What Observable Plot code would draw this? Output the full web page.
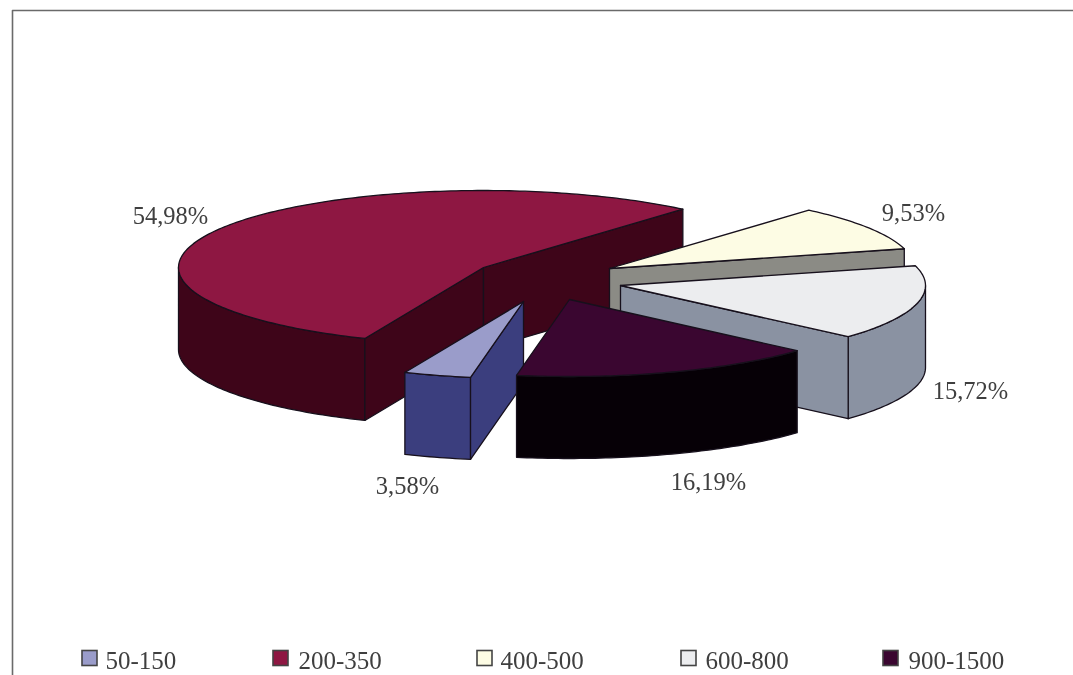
<!DOCTYPE html>
<html>
<head>
<meta charset="utf-8">
<script src="https://cdn.jsdelivr.net/npm/d3@7"></script>
<script src="https://cdn.jsdelivr.net/npm/@observablehq/plot@0.6"></script>
<style>html,body{margin:0;padding:0;background:#fff}svg{display:block;filter:blur(0.55px)}</style>
</head>
<body>
<div id="chart"></div>
<script>
// Data
const categories = ["50-150", "200-350", "400-500", "600-800", "900-1500"];
const shares = [3.58, 54.98, 9.53, 15.72, 16.19];

// Styling / layout (separate from the data)
const topColors  = ["#9a9cca", "#8e1742", "#fdfce4", "#ecedef", "#3a0630"];
const sideColors = ["#3b3e7e", "#3e0519", "#8b8b85", "#8a92a2", "#060006"];
const apexX = [523, 483, 609, 620, 569];
const apexY = [301, 267, 268, 285, 299];
const labelX = [407, 170, 913, 970, 708];
const labelY = [486, 216, 213, 391, 482];
const swatchX = [82, 273, 477, 681, 883];
const legendTextX = [105, 298, 500, 705, 908];
const drawOrder = [1, 2, 3, 0, 4];
const firstAngle = 190, rx = 305, ry = 77, depth = 82;
const legendY = 658, swatchSize = 15, ink = "#17101c", textInk = "#3f3f3f";

const rad = d => d * Math.PI / 180;
const fmt = v => v.toFixed(2).replace(".", ",") + "%";
const total = d3.sum(shares);
let acc = firstAngle;
const slices = shares.map((v, i) => {
  const a0 = acc; acc += v / total * 360;
  return {i, a0, a1: acc};
});
const on = (s, a, dz = 0) => ({
  x: apexX[s.i] + rx * Math.sin(rad(a)),
  y: apexY[s.i] - ry * Math.cos(rad(a)) + dz
});
const arcPts = (s, a0, a1, dz = 0) => {
  const n = Math.max(1, Math.ceil(a1 - a0));
  return d3.range(n + 1).map(k => on(s, a0 + (a1 - a0) * k / n, dz));
};
const apex = (s, dz = 0) => ({x: apexX[s.i], y: apexY[s.i] + dz});

const face = (pts, fill) => Plot.line(pts, {
  x: "x", y: "y", fill, stroke: ink, strokeWidth: 1.3,
  strokeLinejoin: "round", curve: "linear-closed"
});

const sliceMarks = drawOrder.flatMap(i => {
  const s = slices[i], out = [];
  // outer wall: only the near half of the rim can be seen
  const ranges = [];
  for (const off of [0, 360]) {
    const lo = Math.max(s.a0, 90 + off), hi = Math.min(s.a1, 270 + off);
    if (hi > lo) ranges.push([lo, hi]);
  }
  for (const [lo, hi] of ranges)
    out.push(face([...arcPts(s, lo, hi), ...arcPts(s, lo, hi, depth).reverse()], sideColors[i]));
  // cut faces that turn towards the viewer
  if (Math.sin(rad(s.a0)) < 0)
    out.push(face([apex(s), on(s, s.a0), on(s, s.a0, depth), apex(s, depth)], sideColors[i]));
  if (Math.sin(rad(s.a1)) > 0)
    out.push(face([apex(s), on(s, s.a1), on(s, s.a1, depth), apex(s, depth)], sideColors[i]));
  // top
  out.push(face([apex(s), ...arcPts(s, s.a0, s.a1)], topColors[i]));
  return out;
});

const idx = d3.range(categories.length);
const textStyle = {fontFamily: "'Liberation Serif', serif", fill: textInk, stroke: "none"};

const chart = Plot.plot({
  width: 1073, height: 675,
  marginTop: 0, marginRight: 0, marginBottom: 0, marginLeft: 0,
  x: {domain: [0, 1073], range: [0, 1073], axis: null},
  y: {domain: [0, 675], range: [0, 675], axis: null},
  marks: [
    // frame: the scan shows only the left and top edges
    Plot.line([{x: 12, y: 675}, {x: 12, y: 10}, {x: 1073, y: 10}],
      {x: "x", y: "y", stroke: "#6a6a6a", strokeWidth: 1.6}),
    ...sliceMarks,
    // percentage labels
    Plot.text(idx, {
      x: i => labelX[i], y: i => labelY[i], text: i => fmt(shares[i]),
      textAnchor: "middle", lineAnchor: "middle", fontSize: 24.5, ...textStyle
    }),
    // legend
    ...idx.map(i => Plot.rect([i], {
      x1: swatchX[i], x2: swatchX[i] + swatchSize,
      y1: legendY - swatchSize / 2, y2: legendY + swatchSize / 2,
      fill: topColors[i], stroke: "#444", strokeWidth: 1.6
    })),
    Plot.text(idx, {
      x: i => legendTextX[i], y: legendY + 2, text: i => categories[i],
      textAnchor: "start", lineAnchor: "middle", fontSize: 25, ...textStyle
    })
  ]
});
document.getElementById("chart").append(chart);
</script>
</body>
</html>
